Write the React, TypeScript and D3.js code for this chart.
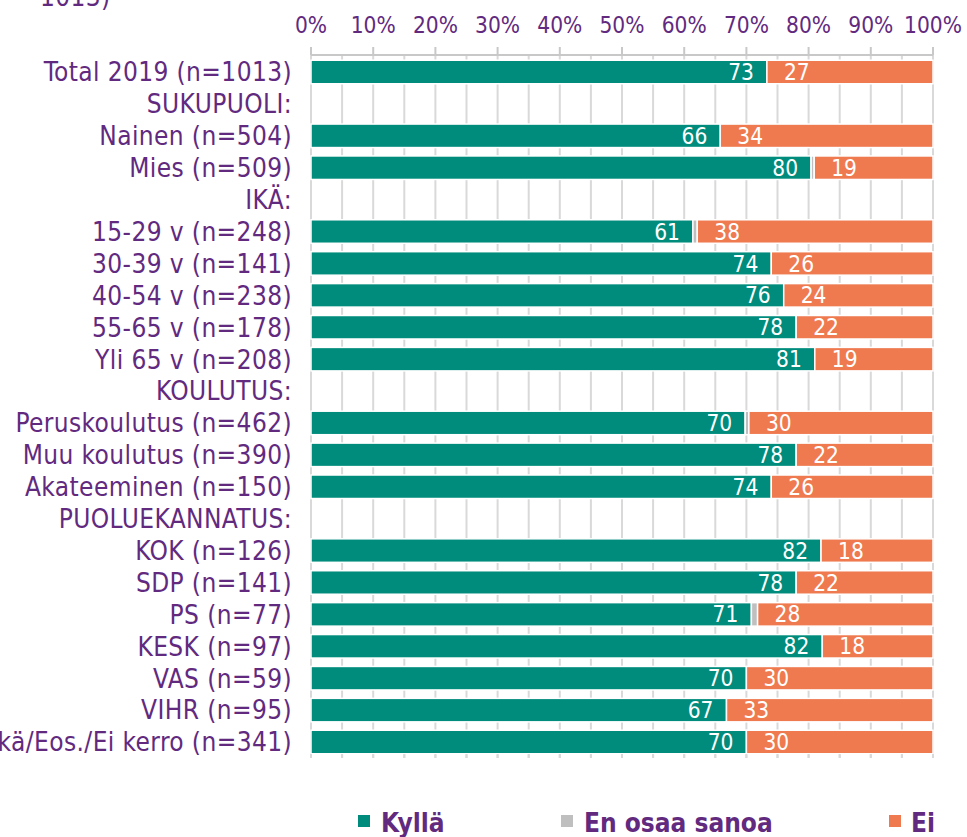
import React from "react";
import * as d3 from "d3";

const categories = [
  "Total 2019 (n=1013)",
  "SUKUPUOLI:",
  "Nainen (n=504)",
  "Mies (n=509)",
  "IKÄ:",
  "15-29 v (n=248)",
  "30-39 v (n=141)",
  "40-54 v (n=238)",
  "55-65 v (n=178)",
  "Yli 65 v (n=208)",
  "KOULUTUS:",
  "Peruskoulutus (n=462)",
  "Muu koulutus (n=390)",
  "Akateeminen (n=150)",
  "PUOLUEKANNATUS:",
  "KOK (n=126)",
  "SDP (n=141)",
  "PS (n=77)",
  "KESK (n=97)",
  "VAS (n=59)",
  "VIHR (n=95)",
  "Muu/Ei mikä/Eos./Ei kerro (n=341)",
];

// null = header row without a bar
const kylla: (number | null)[] = [73.3, null, 65.8, 80.4, null, 61.4, 74, 76, 78, 81, null, 69.8, 78, 74, null, 82, 78, 70.8, 82.2, 70, 66.8, 70];
const eos: (number | null)[] = [0, null, 0, 0.5, null, 0.7, 0, 0, 0, 0, null, 0.6, 0, 0, null, 0, 0, 1.0, 0, 0, 0, 0];
const ei: (number | null)[] = [26.7, null, 34.2, 19.1, null, 37.9, 26, 24, 22, 19, null, 29.6, 22, 26, null, 18, 22, 28.2, 17.8, 30, 33.2, 30];

const seriesNames = ["Kyllä", "En osaa sanoa", "Ei"];
const seriesColors = ["#008C7C", "#BFBFBF", "#EF7A50"];
const ticks = d3.range(0, 101, 10);
const minorTicks = d3.range(0, 101, 5);

const W = 967;
const H = 837;
const purple = "#622A7F";
const font = "'DejaVu Sans Condensed', 'DejaVu Sans', sans-serif";

export default function App() {
  const x = d3.scaleLinear().domain([0, 100]).range([311, 933]);
  const y = d3.scalePoint<string>().domain(categories).range([72, 742]);
  const barH = 23.5;
  const fmt = d3.format(".0f");
  const axisY = 55;
  const gridBottom = 758;

  const legendItems = [
    { sx: 358, tx: 381 },
    { sx: 561, tx: 584 },
    { sx: 889, tx: 911 },
  ];

  return (
    <svg width={W} height={H} style={{ position: "absolute", left: 0, top: 0, background: "#fff" }} fontFamily={font}>
      {/* cut-off title remnant */}
      <text x={40} y={6} fontSize={26} fill={purple} letterSpacing={0.4}>1013)</text>

      {/* gridlines */}
      {minorTicks.map((t) => (
        <line key={"g" + t} x1={x(t)} x2={x(t)} y1={axisY} y2={gridBottom} stroke="#D9D9D9" strokeWidth={2} />
      ))}
      {/* top axis */}
      <line x1={x(0)} x2={x(100)} y1={axisY} y2={axisY} stroke="#C8C8C8" strokeWidth={2} />
      {ticks.map((t) => (
        <g key={"t" + t}>
          <line x1={x(t)} x2={x(t)} y1={axisY - 8} y2={axisY} stroke="#C8C8C8" strokeWidth={2} />
          <text x={x(t)} y={33} textAnchor="middle" fontSize={22.5} fill={purple}>
            {t}%
          </text>
        </g>
      ))}

      {/* rows */}
      {categories.map((c, i) => {
        const cy = y(c) as number;
        const k = kylla[i];
        const e = eos[i];
        const n = ei[i];
        return (
          <g key={c}>
            <text x={292} y={cy} dy="0.36em" textAnchor="end" fontSize={26} letterSpacing={0.4} fill={purple}>
              {c}
            </text>
            {k !== null && e !== null && n !== null && (
              <g>
                <rect x={x(0)} y={cy - barH / 2} width={x(k) - x(0)} height={barH} fill={seriesColors[0]} stroke="#fff" strokeWidth={1.5} />
                {e > 0 && (
                  <rect x={x(k)} y={cy - barH / 2} width={x(k + e) - x(k)} height={barH} fill={seriesColors[1]} stroke="#fff" strokeWidth={1.5} />
                )}
                <rect x={x(k + e)} y={cy - barH / 2} width={x(100) - x(k + e)} height={barH} fill={seriesColors[2]} stroke="#fff" strokeWidth={1.5} />
                <text x={x(k) - 13} y={cy} dy="0.36em" textAnchor="end" fontSize={22.5} fill="#fff">
                  {fmt(k)}
                </text>
                <text x={x(k + e) + 17} y={cy} dy="0.36em" textAnchor="start" fontSize={22.5} fill="#fff">
                  {fmt(n)}
                </text>
              </g>
            )}
          </g>
        );
      })}

      {/* bottom tick marks */}
      {minorTicks.map((t) => (
        <line key={"b" + t} x1={x(t)} x2={x(t)} y1={754} y2={gridBottom} stroke="#D9D9D9" strokeWidth={2} />
      ))}

      {/* legend */}
      {seriesNames.map((s, i) => (
        <g key={s}>
          <rect x={legendItems[i].sx} y={815} width={12} height={12} fill={seriesColors[i]} />
          <text x={legendItems[i].tx} y={832} fontSize={26} fontWeight="bold" fill={purple}>
            {s}
          </text>
        </g>
      ))}
    </svg>
  );
}
